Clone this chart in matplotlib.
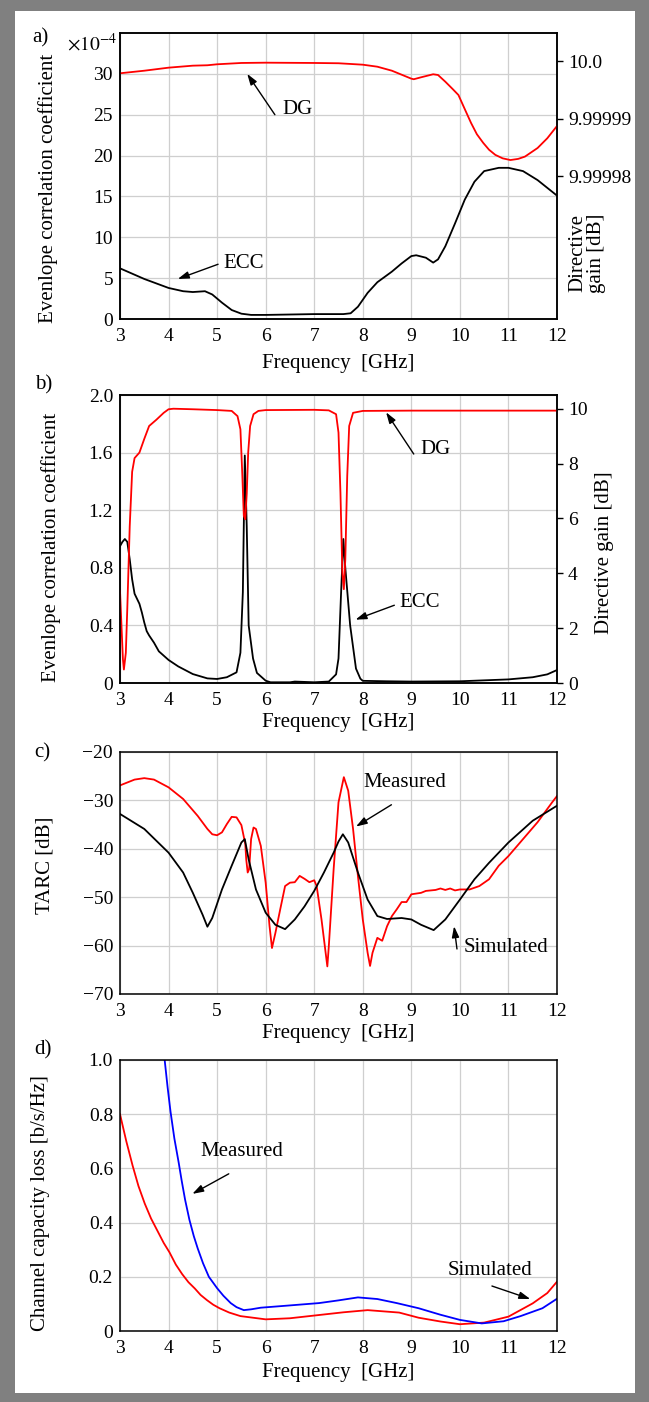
import numpy as np
import matplotlib
matplotlib.use('Agg')
import matplotlib.pyplot as plt
from matplotlib.patches import Rectangle

plt.rcParams['font.family'] = ['Liberation Serif', 'DejaVu Serif']
plt.rcParams['mathtext.fontset'] = 'stix'
plt.rcParams['axes.linewidth'] = 1.1

# ---- panel a) ECC (x1e-4) and directive gain (dB)
fa_ecc = [3.0, 3.5, 4.0, 4.3, 4.5, 4.75, 4.9, 5.1, 5.3, 5.5, 5.7, 6.0, 7.0, 7.6, 7.75,
          7.9, 8.1, 8.3, 8.6, 8.8, 9.0, 9.1, 9.3, 9.45, 9.55, 9.7, 9.9, 10.1, 10.3,
          10.5, 10.8, 11.0, 11.3, 11.6, 12.0]
ecc_a = [6.2, 4.9, 3.8, 3.4, 3.3, 3.4, 3.0, 2.0, 1.1, 0.65, 0.5, 0.5, 0.6, 0.6, 0.7,
         1.5, 3.2, 4.5, 5.8, 6.8, 7.7, 7.8, 7.5, 6.9, 7.3, 8.9, 11.7, 14.6, 16.8,
         18.1, 18.5, 18.5, 18.1, 17.0, 15.1]
fa_dg = [3.0, 3.5, 4.0, 4.5, 4.8, 5.0, 5.5, 6.0, 7.0, 7.5, 8.0, 8.3, 8.6, 9.0, 9.05,
         9.2, 9.45, 9.55, 9.7, 9.85, 9.97, 10.1, 10.23, 10.35, 10.48, 10.6, 10.73,
         10.88, 11.04, 11.2, 11.34, 11.6, 11.8, 12.0]
dg_a = [9.99999794, 9.99999839, 9.99999892, 9.99999927, 9.99999934, 9.99999951,
        9.99999974, 9.99999979, 9.99999974, 9.99999969, 9.99999944, 9.99999909,
        9.99999839, 9.99999700, 9.99999690, 9.99999724, 9.99999777, 9.99999764,
        9.99999647, 9.99999520, 9.99999415, 9.99999170, 9.99998927, 9.99998730,
        9.99998580, 9.99998460, 9.99998370, 9.99998310, 9.99998280, 9.99998300,
        9.99998340, 9.99998490, 9.99998660, 9.99998874]

# ---- panel b)
fb_ecc = [3.0, 3.05, 3.1, 3.15, 3.2, 3.25, 3.3, 3.4, 3.45, 3.5, 3.55, 3.6, 3.7, 3.8, 3.9,
          4.0, 4.2, 4.5, 4.8, 5.0, 5.2, 5.4, 5.48, 5.53, 5.57, 5.61, 5.65, 5.74, 5.82,
          6.0, 6.1, 6.5, 6.6, 7.0, 7.3, 7.45, 7.5, 7.55, 7.6, 7.64, 7.69, 7.74, 7.78,
          7.86, 7.95, 8.0, 8.5, 9.0, 10.0, 11.0, 11.5, 11.8, 12.0]
ecc_b = [0.95, 0.98, 1.0, 0.98, 0.86, 0.72, 0.62, 0.55, 0.49, 0.42, 0.36, 0.33, 0.28,
         0.22, 0.19, 0.16, 0.115, 0.062, 0.032, 0.028, 0.04, 0.074, 0.21, 0.63, 1.58,
         1.09, 0.4, 0.17, 0.07, 0.016, 0.005, 0.005, 0.01, 0.005, 0.01, 0.06, 0.17,
         0.6, 1.0, 0.8, 0.6, 0.4, 0.3, 0.1, 0.03, 0.015, 0.012, 0.01, 0.012, 0.025,
         0.04, 0.06, 0.09]
fb_dg = [3.0, 3.03, 3.06, 3.08, 3.12, 3.15, 3.2, 3.25, 3.3, 3.4, 3.5, 3.6, 3.75, 3.9,
         4.0, 4.1, 4.5, 5.0, 5.3, 5.42, 5.48, 5.52, 5.55, 5.58, 5.61, 5.64, 5.68, 5.75,
         5.85, 6.0, 7.0, 7.3, 7.45, 7.5, 7.54, 7.58, 7.61, 7.64, 7.68, 7.72, 7.8, 8.0,
         9.0, 12.0]
dg_b = [3.36, 2.1, 0.87, 0.49, 1.1, 2.7, 5.7, 7.7, 8.2, 8.4, 8.9, 9.37, 9.6, 9.85, 9.98,
        10.0, 9.98, 9.95, 9.92, 9.73, 9.25, 7.55, 6.1, 5.97, 6.9, 8.4, 9.37, 9.8, 9.92,
        9.95, 9.96, 9.94, 9.8, 9.13, 6.94, 4.0, 3.42, 4.5, 7.55, 9.37, 9.85, 9.92,
        9.93, 9.93]

# ---- panel c) TARC
fc_meas = [3.0, 3.3, 3.5, 3.7, 4.0, 4.3, 4.6, 4.8, 4.9, 5.0, 5.1, 5.2, 5.3, 5.4, 5.5,
           5.58, 5.6, 5.63, 5.66, 5.7, 5.75, 5.8, 5.9, 6.0, 6.08, 6.13, 6.2, 6.3, 6.4,
           6.5, 6.6, 6.7, 6.8, 6.9, 7.0, 7.05, 7.15, 7.27, 7.3, 7.4, 7.5, 7.61, 7.7,
           7.8, 7.9, 8.0, 8.1, 8.15, 8.2, 8.3, 8.4, 8.5, 8.6, 8.7, 8.8, 8.9, 9.0, 9.2,
           9.3, 9.5, 9.6, 9.7, 9.8, 9.9, 10.0, 10.2, 10.4, 10.6, 10.8, 11.0, 11.3,
           11.6, 11.9, 12.0]
tarc_meas = [-26.9, -25.7, -25.4, -25.7, -27.3, -29.7, -33.2, -35.9, -37.0, -37.2,
             -36.6, -34.9, -33.4, -33.5, -35.1, -39.0, -42.2, -44.9, -44.2, -38.0,
             -35.6, -35.9, -39.4, -47.0, -56.0, -60.5, -57.4, -52.5, -47.7, -47.0,
             -46.9, -45.6, -46.2, -46.9, -46.5, -47.7, -54.6, -64.3, -60.2, -44.2,
             -30.4, -25.2, -28.0, -35.9, -45.6, -54.6, -61.5, -64.2, -61.5, -58.4,
             -59.0, -56.0, -53.9, -52.5, -51.0, -51.0, -49.4, -49.1, -48.7, -48.5,
             -48.2, -48.5, -48.2, -48.6, -48.4, -48.4, -47.7, -46.3, -43.5, -41.5,
             -38.0, -34.5, -30.4, -29.1]
fc_sim = [3.0, 3.5, 4.0, 4.3, 4.5, 4.7, 4.8, 4.9, 5.1, 5.3, 5.5, 5.57, 5.65, 5.8, 6.0,
          6.2, 6.4, 6.6, 6.8, 7.0, 7.2, 7.4, 7.5, 7.59, 7.7, 7.9, 8.1, 8.3, 8.5, 8.8,
          9.0, 9.2, 9.46, 9.7, 10.0, 10.3, 10.6, 11.0, 11.5, 12.0]
tarc_sim = [-32.8, -35.9, -40.8, -44.9, -49.1, -53.6, -56.1, -54.3, -48.4, -43.5,
            -38.7, -38.0, -42.2, -48.4, -53.2, -55.7, -56.6, -54.6, -51.9, -48.7,
            -44.9, -40.8, -38.5, -37.0, -38.7, -44.9, -50.5, -53.9, -54.5, -54.3,
            -54.6, -55.7, -56.8, -54.6, -50.5, -46.3, -42.9, -38.7, -34.2, -31.1]

# ---- panel d) channel capacity loss
fd_meas = [3.92, 3.98, 4.04, 4.12, 4.21, 4.27, 4.34, 4.43, 4.52, 4.6, 4.71, 4.83, 5.0,
           5.13, 5.28, 5.4, 5.55, 5.7, 5.9, 6.4, 7.1, 7.5, 7.9, 8.3, 8.7, 9.15, 9.6,
           10.0, 10.45, 10.9, 11.25, 11.7, 12.0]
ccl_meas = [1.0, 0.9, 0.81, 0.71, 0.62, 0.555, 0.485, 0.41, 0.35, 0.305, 0.25, 0.2,
            0.158, 0.13, 0.103, 0.088, 0.077, 0.08, 0.086, 0.093, 0.103, 0.113, 0.124,
            0.118, 0.103, 0.084, 0.06, 0.041, 0.028, 0.036, 0.055, 0.084, 0.119]
fd_sim = [3.0, 3.13, 3.26, 3.38, 3.51, 3.64, 3.77, 3.9, 4.02, 4.15, 4.28, 4.41, 4.54,
          4.66, 4.79, 4.92, 5.05, 5.25, 5.48, 6.0, 6.5, 7.1, 7.6, 8.1, 8.75, 9.15,
          9.6, 10.0, 10.5, 11.0, 11.5, 11.8, 12.0]
ccl_sim = [0.80, 0.70, 0.61, 0.535, 0.47, 0.415, 0.37, 0.325, 0.29, 0.245, 0.21, 0.18,
           0.157, 0.133, 0.114, 0.097, 0.084, 0.068, 0.055, 0.043, 0.047, 0.059,
           0.069, 0.077, 0.068, 0.049, 0.035, 0.025, 0.031, 0.053, 0.102, 0.14, 0.182]

freq_ticks = list(range(3, 13))

W, H = 649, 1402
fig = plt.figure(figsize=(W / 100, H / 100), dpi=100, facecolor='#808080')
fig.patches.append(Rectangle((15 / W, 1 - 1393 / H), 620 / W, 1382 / H,
                             transform=fig.transFigure, facecolor='white',
                             edgecolor='none', zorder=-10))


def make_axes(top, bottom):
    ax = fig.add_axes([120 / W, 1 - bottom / H, 437 / W, (bottom - top) / H])
    ax.set_xlim(3, 12)
    ax.set_xticks(freq_ticks)
    ax.grid(True, color='#cfcfcf', linewidth=0.9)
    ax.set_axisbelow(True)
    ax.tick_params(axis='x', length=0, pad=6.5, labelsize=14)
    ax.tick_params(axis='y', length=0, pad=5, labelsize=14)
    ax.set_xlabel('Frequency  [GHz]', fontsize=15)
    return ax


def arrow(ax, tail, tip):
    ax.annotate('', xy=tip, xytext=tail,
                arrowprops=dict(arrowstyle='-|>,head_length=0.55,head_width=0.18',
                                color='black', lw=1.0, mutation_scale=12,
                                shrinkA=0, shrinkB=0))


ylab_fs = 15

# a)
ax = make_axes(33, 319)
ax.plot(fa_ecc, ecc_a, color='black', lw=1.3)
ax.set_ylim(0, 35)
ax.set_yticks([0, 5, 10, 15, 20, 25, 30])
ax.set_ylabel('Evenlope correlation coefficient', fontsize=ylab_fs)
ax.yaxis.set_label_coords(-0.142, 0.455)
ax.xaxis.set_label_coords(0.5, -0.122)
ax.text(-0.007, 0.94, r'$\times10^{-4}$', transform=ax.transAxes, ha='right',
        va='baseline', fontsize=14)
ax2 = ax.twinx()
ax2.plot(fa_dg, dg_a, color='red', lw=1.3)
ax2.set_ylim(10 - 4.494e-5, 10 + 0.497e-5)
ax2.set_yticks([9.99998, 9.99999, 10.0])
ax2.set_yticklabels(['9.99998', '9.99999', '10.0'])
ax2.tick_params(axis='y', length=4, width=1, direction='out', pad=4, labelsize=14)
ax2.set_ylabel('Directive\ngain [dB]', fontsize=ylab_fs, linespacing=1.0)
ax2.yaxis.set_label_coords(1.025, 0.23)
ax.text(6.34, 25.6, 'DG', fontsize=15, va='center', ha='left')
arrow(ax, (6.19, 25.0), (5.62, 30.0))
ax.text(5.13, 6.85, 'ECC', fontsize=15, va='center', ha='left')
arrow(ax, (5.02, 6.7), (4.19, 4.9))

# b)
ax = make_axes(395, 683)
ax.plot(fb_ecc, ecc_b, color='black', lw=1.3)
ax.set_ylim(0, 2.0)
ax.set_yticks([0, 0.4, 0.8, 1.2, 1.6, 2.0])
ax.set_yticklabels(['0', '0.4', '0.8', '1.2', '1.6', '2.0'])
ax.set_ylabel('Evenlope correlation coefficient', fontsize=ylab_fs)
ax.yaxis.set_label_coords(-0.135, 0.47)
ax.xaxis.set_label_coords(0.5, -0.104)
ax2 = ax.twinx()
ax2.plot(fb_dg, dg_b, color='red', lw=1.3)
ax2.set_ylim(0, 10.5)
ax2.set_yticks([0, 2, 4, 6, 8, 10])
ax2.tick_params(axis='y', length=4, width=1, direction='out', pad=4, labelsize=14)
ax2.set_ylabel('Directive gain [dB]', fontsize=ylab_fs)
ax2.yaxis.set_label_coords(1.087, 0.451)
ax.text(9.18, 1.62, 'DG', fontsize=15, va='center', ha='left')
arrow(ax, (9.05, 1.59), (8.48, 1.88))
ax.text(8.76, 0.56, 'ECC', fontsize=15, va='center', ha='left')
arrow(ax, (8.65, 0.54), (7.85, 0.44))

# c)
ax = make_axes(752, 994)
ax.plot(fc_meas, tarc_meas, color='red', lw=1.3)
ax.plot(fc_sim, tarc_sim, color='black', lw=1.3)
ax.set_ylim(-70, -20)
ax.set_yticks([-70, -60, -50, -40, -30, -20])
ax.set_ylabel('TARC [dB]', fontsize=ylab_fs)
ax.yaxis.set_label_coords(-0.151, 0.533)
ax.xaxis.set_label_coords(0.5, -0.124)
ax.text(8.02, -26.2, 'Measured', fontsize=15, va='center', ha='left')
arrow(ax, (8.59, -30.9), (7.86, -35.4))
ax.text(10.07, -60.4, 'Simulated', fontsize=15, va='center', ha='left')
arrow(ax, (9.94, -60.7), (9.88, -56.0))

# d)
ax = make_axes(1060, 1331)
ax.plot(fd_sim, ccl_sim, color='red', lw=1.3)
ax.plot(fd_meas, ccl_meas, color='blue', lw=1.3)
ax.set_ylim(0, 1.0)
ax.set_yticks([0, 0.2, 0.4, 0.6, 0.8, 1.0])
ax.set_yticklabels(['0', '0.2', '0.4', '0.6', '0.8', '1.0'])
ax.set_ylabel('Channel capacity loss [b/s/Hz]', fontsize=ylab_fs)
ax.yaxis.set_label_coords(-0.16, 0.472)
ax.xaxis.set_label_coords(0.5, -0.118)
ax.text(4.66, 0.664, 'Measured', fontsize=15, va='center', ha='left')
arrow(ax, (5.24, 0.58), (4.49, 0.506))
ax.text(9.74, 0.225, 'Simulated', fontsize=15, va='center', ha='left')
arrow(ax, (10.66, 0.166), (11.45, 0.118))

# panel letters
for lab, x, y in [('a)', 32, 28), ('b)', 35, 375), ('c)', 34, 743), ('d)', 34, 1040)]:
    fig.text(x / W, 1 - y / H, lab, fontsize=15, ha='left', va='top')

fig.savefig('out.png', dpi=100, facecolor=fig.get_facecolor())
